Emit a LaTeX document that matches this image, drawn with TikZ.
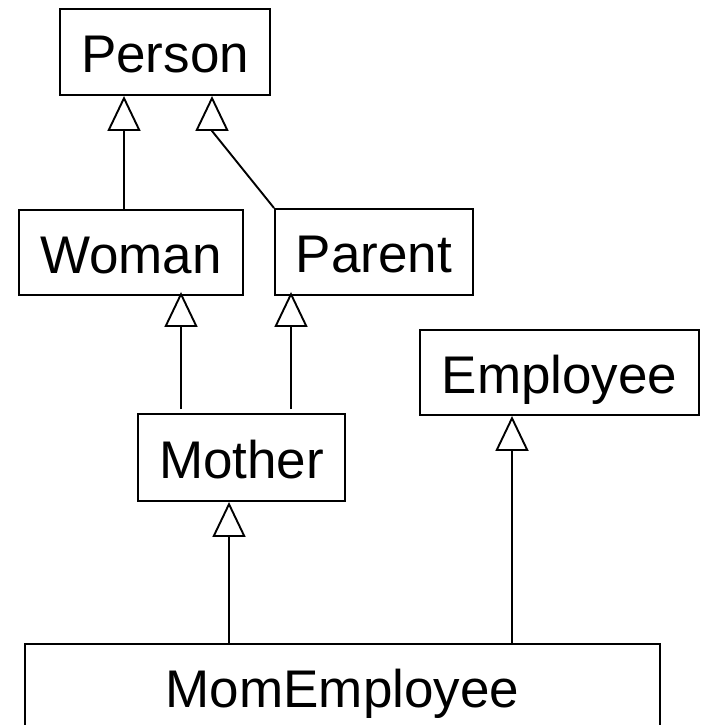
\documentclass[tikz,border=0pt]{standalone}
\usepackage{fontspec}
\setmainfont{Liberation Sans}
\usetikzlibrary{arrows.meta,calc}

\begin{document}
\begin{tikzpicture}[
  x=1pt, y=-1pt,
  font=\fontsize{53}{60}\selectfont,
  cls/.style={draw, line width=1.9pt, inner sep=0pt, align=center,
    text height=41pt, text depth=0pt, minimum height=86pt},
  gen/.style={-{Triangle[open, length=35pt, width=33pt]}, line width=1.9pt}
]
\useasboundingbox (0,0) rectangle (702,725);
\node[cls, minimum width=210pt] (person) at (165,52) {Person};
\node[cls, minimum width=224pt, minimum height=85pt] (woman) at (131,252.5) {Woman};
\node[cls, minimum width=198pt] (parent) at (374,252) {Parent};
\node[cls, minimum width=279pt, minimum height=85pt] (employee) at (559.5,372.5) {Employee};
\node[cls, minimum width=207pt, minimum height=87pt] (mother) at (241.5,457.5) {Mother};
\node[cls, minimum width=635pt] (momemp) at (342.5,687) {MomEmployee};
\draw[gen] ([xshift=-41pt]person.south |- woman.north) -- ([xshift=-41pt]person.south);
\draw[gen] (parent.north west) -- ([xshift=47pt,yshift=-35pt]person.south) -- ([xshift=47pt]person.south);
\draw[gen] ([xshift=-60.5pt,yshift=4pt]mother.north) -- ([xshift=-60.5pt,yshift=4pt]mother.north |- woman.south);
\draw[gen] ([xshift=49.5pt,yshift=4pt]mother.north) -- ([xshift=49.5pt,yshift=4pt]mother.north |- parent.south);
\draw[gen] ([xshift=-113.5pt]momemp.north) -- ([xshift=-113.5pt]momemp.north |- mother.south);
\draw[gen] ([xshift=169.5pt]momemp.north) -- ([xshift=169.5pt]momemp.north |- employee.south);
\end{tikzpicture}
\end{document}
